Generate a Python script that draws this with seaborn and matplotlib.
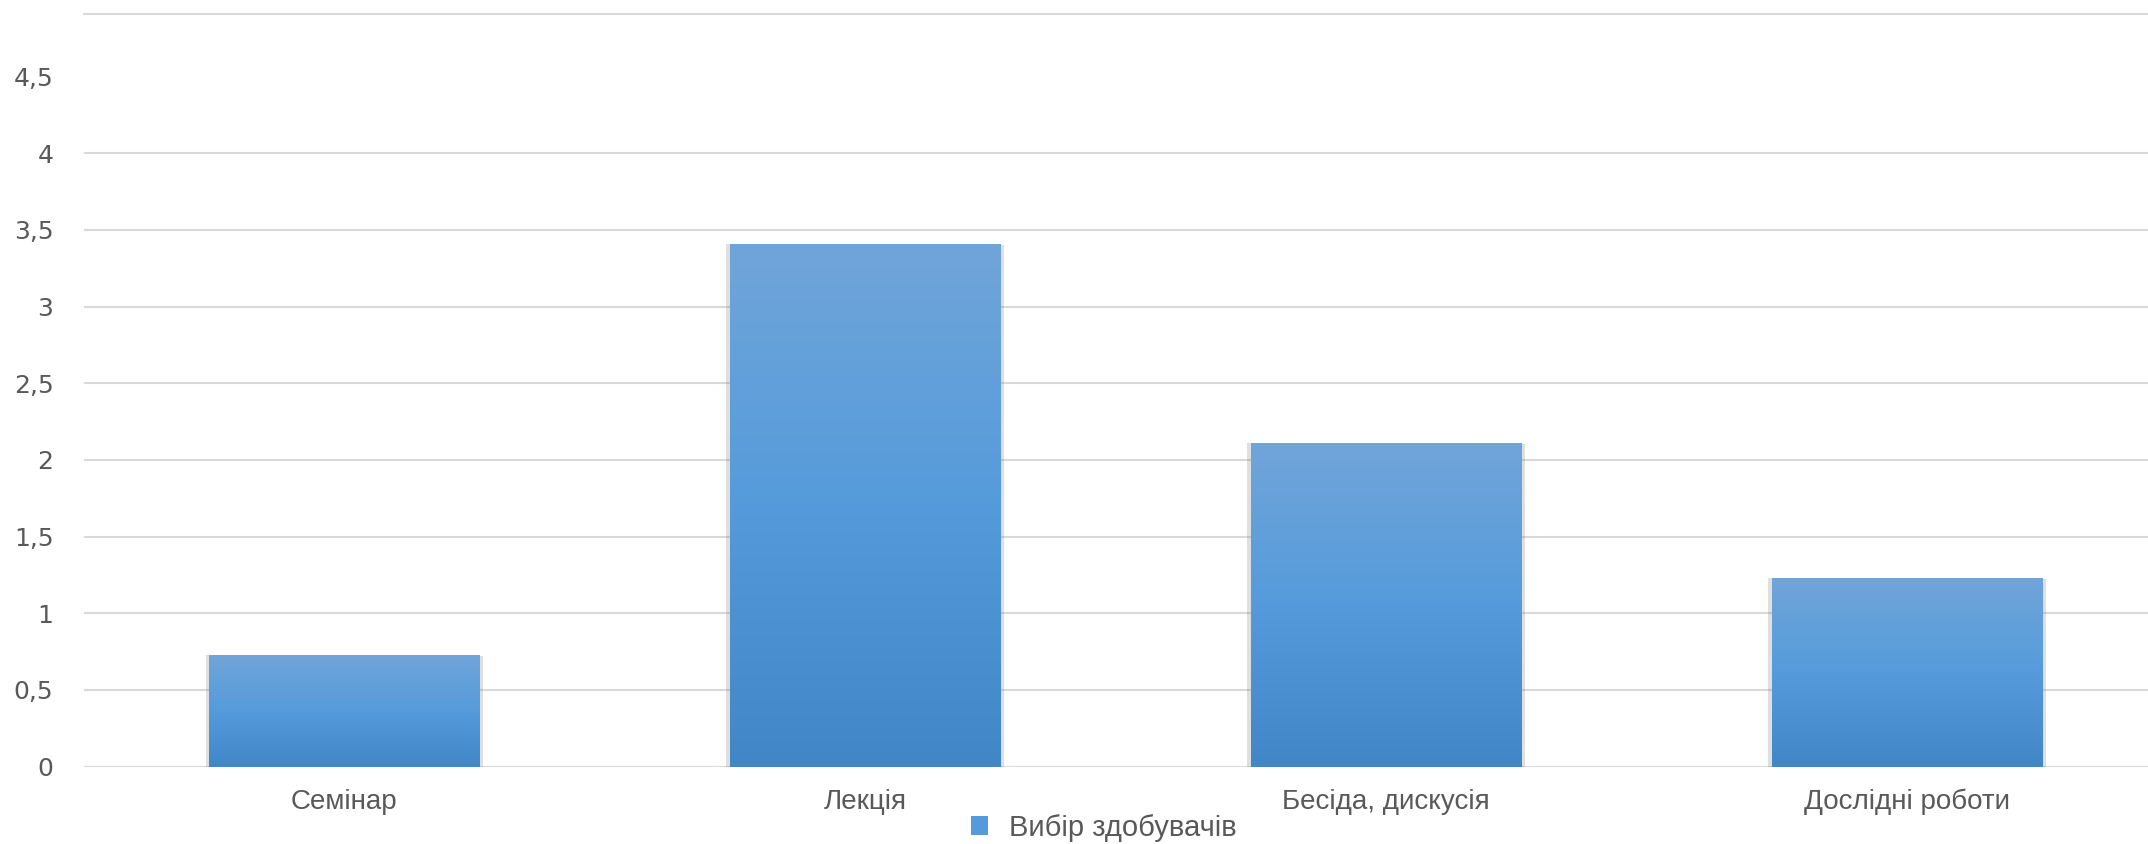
import numpy as np
import pandas as pd
import matplotlib
matplotlib.use("Agg")
import matplotlib.pyplot as plt
import seaborn as sns
from matplotlib.patches import Patch
from matplotlib import patheffects as pe
from matplotlib.colors import LinearSegmentedColormap
from matplotlib import font_manager

# ---- data ----
categories = ["Семінар", "Лекція", "Бесіда, дискусія", "Дослідні роботи"]
values = [0.73, 3.41, 2.11, 1.23]
series_name = "Вибір здобувачів"
y_ticks = [0, 0.5, 1, 1.5, 2, 2.5, 3, 3.5, 4, 4.5]
y_tick_labels = ["0", "0,5", "1", "1,5", "2", "2,5", "3", "3,5", "4", "4,5"]
grid_values = [0, 0.5, 1, 1.5, 2, 2.5, 3, 3.5, 4]

sns.set_theme(style="white")
plt.rcParams['font.family'] = ['DejaVu Sans']

names = {f.name for f in font_manager.fontManager.ttflist}
label_family = ['Liberation Sans Narrow', 'DejaVu Sans'] if 'Liberation Sans Narrow' in names else ['Liberation Sans', 'DejaVu Sans']

GRID = "#D9D9D9"
TEXT = "#595959"
c_bottom, c_mid, c_top = "#4186C6", "#559BDB", "#70A5D9"
cmap = LinearSegmentedColormap.from_list("bar", [c_bottom, c_mid, c_top])

fig = plt.figure(figsize=(21.48, 8.44), dpi=100)
ax = fig.add_axes([0.0391, 0.0916, 0.970, 0.8918])

df = pd.DataFrame({"category": categories, "value": values})
sns.barplot(data=df, x="category", y="value", color=c_mid, width=0.52,
            ax=ax, zorder=3, saturation=1)

ylim_top = 4.907
for g in grid_values:
    ax.axhline(g, color=GRID, lw=1.5, zorder=1)

grad = np.linspace(0, 1, 256).reshape(-1, 1)
for p in list(ax.patches):
    x, y = p.get_x(), p.get_y()
    w, h = p.get_width(), p.get_height()
    p.set_edgecolor("none")
    p.set_path_effects([
        pe.SimplePatchShadow(offset=(-2.5, 0), shadow_rgbFace="#808080", alpha=0.25),
        pe.SimplePatchShadow(offset=(2.5, -1), shadow_rgbFace="#808080", alpha=0.25),
        pe.Normal(),
    ])
    im = ax.imshow(grad, extent=[x, x + w, y, y + h], origin="lower",
                   aspect="auto", cmap=cmap, zorder=4, interpolation="bilinear")
    im.set_clip_path(p)

ax.set_xlim(-0.5, 3.5)
ax.set_ylim(0, ylim_top)
ax.set_yticks(y_ticks)
ax.set_yticklabels(y_tick_labels)
ax.set_xlabel("")
ax.set_ylabel("")

for s in ["left", "right", "bottom"]:
    ax.spines[s].set_visible(False)
ax.spines["top"].set_color(GRID)
ax.spines["top"].set_linewidth(1.5)

ax.tick_params(axis="y", length=0, pad=22, labelsize=18, labelcolor=TEXT)
ax.tick_params(axis="x", length=0, pad=16, labelsize=20, labelcolor=TEXT)
for t in ax.get_xticklabels():
    t.set_family(label_family)

handles = [Patch(facecolor=c_mid, edgecolor="none", label=series_name)]
fig.legend(handles=handles, loc="center", bbox_to_anchor=(0.5137, 0.019),
           frameon=False, prop={"family": label_family, "size": 21},
           labelcolor=TEXT, handlelength=0.6, handleheight=0.6,
           handletextpad=0.7, borderpad=0, borderaxespad=0)

fig.savefig("out.png", dpi=100)
